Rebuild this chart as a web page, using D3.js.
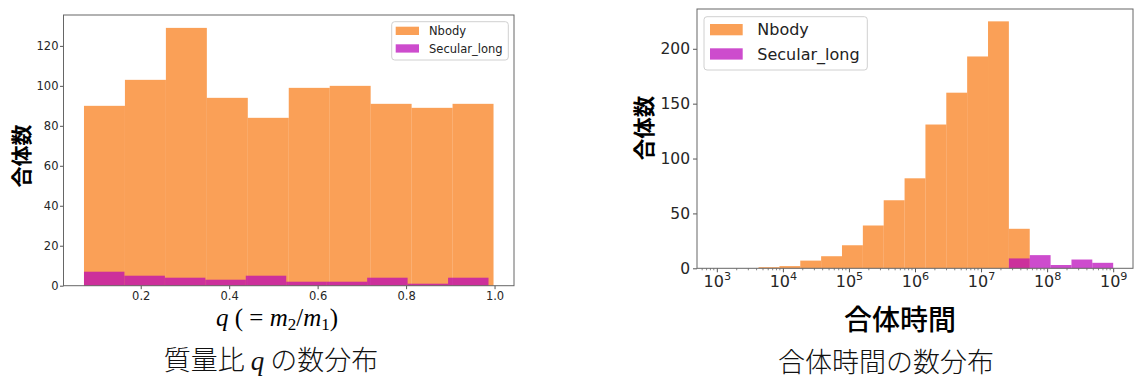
<!DOCTYPE html>
<html>
<head>
<meta charset="utf-8">
<script src="https://cdn.jsdelivr.net/npm/d3@7"></script>
<style>
  html, body { margin: 0; padding: 0; background: #fff; }
  svg { display: block; }
</style>
</head>
<body>
<svg id="chart" width="1137" height="381"></svg>
<script>
// ---- Mass ratio q = m2/m1 : 10 equal-width bins per series ----
const qNbodyRange   = [0.0717, 0.9977];
const qSecularRange = [0.0717, 0.9864];
const qNbodyCounts   = [90, 103, 129, 94, 84, 99, 100, 91, 89, 91];
const qSecularCounts = [7, 5, 4, 3, 5, 2, 2, 4, 1, 4];
const qTicks      = [0.2, 0.4, 0.6, 0.8, 1.0];
const qCountTicks = [0, 20, 40, 60, 80, 100, 120];

// ---- Merger time : 19 log-spaced bins from 1e3 to 1e9 ----
const tLogRange = [3, 9];
const tNbodyCounts   = [0, 0, 1, 2, 7, 11, 21, 39, 62, 82, 131, 160, 193, 225, 36, 0, 0, 0, 0];
const tSecularCounts = [0, 0, 0, 0, 0, 0, 0, 0, 0, 0, 0, 0, 0, 0, 9, 12, 3, 8, 5];
const tExponents  = [3, 4, 5, 6, 7, 8, 9];
const tCountTicks = [0, 50, 100, 150, 200];

const seriesNames  = ["Nbody", "Secular_long"];
const seriesColors = ["#f87810", "#b800b8"];
const fillAlpha = 0.7;

const svg = d3.select("#chart");
const TICK_FONT = "DejaVu Sans, sans-serif";
const CJK_FONT = "'Noto Sans CJK JP', 'Noto Sans CJK SC', sans-serif";

// turn counts + range into {x0, x1, n} bins
function toBins(range, counts) {
  const n = counts.length;
  const step = (range[1] - range[0]) / n;
  return counts.map((c, i) => ({ x0: range[0] + i * step, x1: range[0] + (i + 1) * step, n: c }));
}

function drawBars(g, bins, x, y, color, map) {
  g.append("g")
    .selectAll("rect")
    .data(bins.filter(b => b.n > 0))
    .join("rect")
    .attr("x", d => x(map(d.x0)))
    .attr("width", d => x(map(d.x1)) - x(map(d.x0)))
    .attr("y", d => y(d.n))
    .attr("height", d => y(0) - y(d.n))
    .attr("fill", color)
    .attr("fill-opacity", fillAlpha);
}

function drawLegend(g, box, sw, fontSize) {
  const lg = g.append("g");
  lg.append("rect")
    .attr("x", box.x).attr("y", box.y)
    .attr("width", box.w).attr("height", box.h)
    .attr("rx", 3)
    .attr("fill", "#fff").attr("fill-opacity", 0.8)
    .attr("stroke", "#d0d0d0").attr("stroke-width", 1);
  seriesNames.forEach((name, i) => {
    const yy = box.y + sw.top + i * sw.gap;
    lg.append("rect")
      .attr("x", box.x + sw.left).attr("y", yy)
      .attr("width", sw.w).attr("height", sw.h)
      .attr("fill", seriesColors[i]).attr("fill-opacity", fillAlpha);
    lg.append("text")
      .attr("x", box.x + sw.textX)
      .attr("y", yy + sw.h / 2)
      .attr("dy", "0.36em")
      .attr("font-family", TICK_FONT)
      .attr("font-size", fontSize)
      .attr("fill", "#222")
      .text(name);
  });
}

function styleAxis(a, fontSize) {
  a.select(".domain").remove();
  a.selectAll(".tick line").attr("stroke", "#555").attr("stroke-width", 1);
  a.selectAll(".tick text")
    .attr("font-family", TICK_FONT)
    .attr("font-size", fontSize)
    .attr("fill", "#262626");
}

function frame(g, b) {
  g.append("rect")
    .attr("x", b.left).attr("y", b.top)
    .attr("width", b.right - b.left).attr("height", b.bottom - b.top)
    .attr("fill", "none").attr("stroke", "#666").attr("stroke-width", 1);
}

// =================== Left panel : mass ratio ===================
{
  const b = { left: 63.5, right: 514, top: 15, bottom: 285.7 };
  const g = svg.append("g");
  const nb = toBins(qNbodyRange, qNbodyCounts);
  const sb = toBins(qSecularRange, qSecularCounts);

  const lo = Math.min(qNbodyRange[0], qSecularRange[0]);
  const hi = Math.max(qNbodyRange[1], qSecularRange[1]);
  const pad = (hi - lo) * 0.05;
  const x = d3.scaleLinear().domain([lo - pad, hi + pad]).range([b.left, b.right]);
  const ymax = d3.max(qNbodyCounts.concat(qSecularCounts)) * 1.05;
  const y = d3.scaleLinear().domain([0, ymax]).range([b.bottom, b.top]);

  drawBars(g, nb, x, y, seriesColors[0], v => v);
  drawBars(g, sb, x, y, seriesColors[1], v => v);

  const ax = g.append("g").attr("transform", `translate(0,${b.bottom})`)
    .call(d3.axisBottom(x).tickValues(qTicks).tickFormat(d3.format(".1f")).tickSize(3.5).tickPadding(2.5));
  styleAxis(ax, 11.5);
  const ay = g.append("g").attr("transform", `translate(${b.left},0)`)
    .call(d3.axisLeft(y).tickValues(qCountTicks).tickFormat(d3.format("d")).tickSize(3.5).tickPadding(1.5));
  styleAxis(ay, 11.5);
  frame(g, b);

  drawLegend(g, { x: 391.7, y: 21.7, w: 116.6, h: 38.3 },
    { left: 4, top: 5, gap: 17.6, w: 23.3, h: 8.3, textX: 37.3 }, 11.5);

  // y label
  g.append("text")
    .attr("transform", "translate(29,156) rotate(-90)")
    .attr("text-anchor", "middle")
    .attr("font-family", CJK_FONT)
    .attr("font-weight", 700)
    .attr("font-size", 21)
    .attr("fill", "#000")
    .text("合体数");

  // x label  q ( = m2/m1 )
  const xl = g.append("text")
    .attr("x", 277).attr("y", 326)
    .attr("text-anchor", "middle")
    .attr("font-family", "'Liberation Serif', 'DejaVu Serif', serif")
    .attr("font-size", 25)
    .attr("fill", "#000");
  xl.append("tspan").attr("font-style", "italic").text("q");
  xl.append("tspan").text("  (  =  ");
  xl.append("tspan").attr("font-style", "italic").text("m");
  xl.append("tspan").attr("font-size", "0.68em").attr("dy", "0.22em").text("2");
  xl.append("tspan").attr("dy", "-0.15em").text("/");
  xl.append("tspan").attr("font-style", "italic").text("m");
  xl.append("tspan").attr("font-size", "0.68em").attr("dy", "0.22em").text("1");
  xl.append("tspan").attr("dy", "-0.15em").text(")");

  // caption
  const cap = g.append("text")
    .attr("x", 271).attr("y", 370)
    .attr("text-anchor", "middle")
    .attr("font-family", CJK_FONT)
    .attr("font-weight", 300)
    .attr("font-size", 27)
    .attr("fill", "#111");
  cap.append("tspan").text("質量比 ");
  cap.append("tspan").attr("font-family", "'Liberation Serif', serif").attr("font-style", "italic").text("q");
  cap.append("tspan").text(" の数分布");
}

// =================== Right panel : merger time ===================
{
  const b = { left: 697, right: 1133, top: 9, bottom: 268.3 };
  const g = svg.append("g");
  const nb = toBins(tLogRange, tNbodyCounts);
  const sb = toBins(tLogRange, tSecularCounts);

  const pad = (tLogRange[1] - tLogRange[0]) * 0.05;
  const x = d3.scaleLog()
    .domain([Math.pow(10, tLogRange[0] - pad), Math.pow(10, tLogRange[1] + pad)])
    .range([b.left, b.right]);
  const ymax = d3.max(tNbodyCounts.concat(tSecularCounts)) * 1.05;
  const y = d3.scaleLinear().domain([0, ymax]).range([b.bottom, b.top]);

  const pow10 = v => Math.pow(10, v);
  drawBars(g, nb, x, y, seriesColors[0], pow10);
  drawBars(g, sb, x, y, seriesColors[1], pow10);

  // minor log ticks
  const [d0, d1] = x.domain();
  const minor = [];
  for (let e = Math.floor(Math.log10(d0)); e <= Math.ceil(Math.log10(d1)); e++) {
    for (let k = 2; k <= 9; k++) {
      const v = k * Math.pow(10, e);
      if (v > d0 && v < d1) minor.push(v);
    }
  }
  g.append("g").selectAll("line").data(minor).join("line")
    .attr("x1", d => x(d)).attr("x2", d => x(d))
    .attr("y1", b.bottom).attr("y2", b.bottom + 2)
    .attr("stroke", "#666").attr("stroke-width", 0.8);

  const ax = g.append("g").attr("transform", `translate(0,${b.bottom})`)
    .call(d3.axisBottom(x).tickValues(tExponents.map(pow10)).tickFormat(() => "").tickSize(4).tickPadding(3));
  styleAxis(ax, 16);
  ax.selectAll(".tick text").each(function (d) {
    const t = d3.select(this);
    t.append("tspan").text("10");
    t.append("tspan").attr("font-size", "0.7em").attr("dy", "-0.62em")
      .text(Math.round(Math.log10(d)));
  });

  const ay = g.append("g").attr("transform", `translate(${b.left},0)`)
    .call(d3.axisLeft(y).tickValues(tCountTicks).tickFormat(d3.format("d")).tickSize(4).tickPadding(3));
  styleAxis(ay, 15.5);
  frame(g, b);

  drawLegend(g, { x: 704, y: 16.7, w: 163.3, h: 53.3 },
    { left: 6, top: 7.3, gap: 24.3, w: 32.7, h: 11.3, textX: 53.3 }, 16);

  g.append("text")
    .attr("transform", "translate(652,128) rotate(-90)")
    .attr("text-anchor", "middle")
    .attr("font-family", CJK_FONT)
    .attr("font-weight", 700)
    .attr("font-size", 21.5)
    .attr("fill", "#000")
    .text("合体数");

  g.append("text")
    .attr("x", 900).attr("y", 330)
    .attr("text-anchor", "middle")
    .attr("font-family", CJK_FONT)
    .attr("font-weight", 500)
    .attr("font-size", 28)
    .attr("fill", "#000")
    .text("合体時間");

  g.append("text")
    .attr("x", 886).attr("y", 372)
    .attr("text-anchor", "middle")
    .attr("font-family", CJK_FONT)
    .attr("font-weight", 300)
    .attr("font-size", 27)
    .attr("fill", "#111")
    .text("合体時間の数分布");
}
</script>
</body>
</html>
